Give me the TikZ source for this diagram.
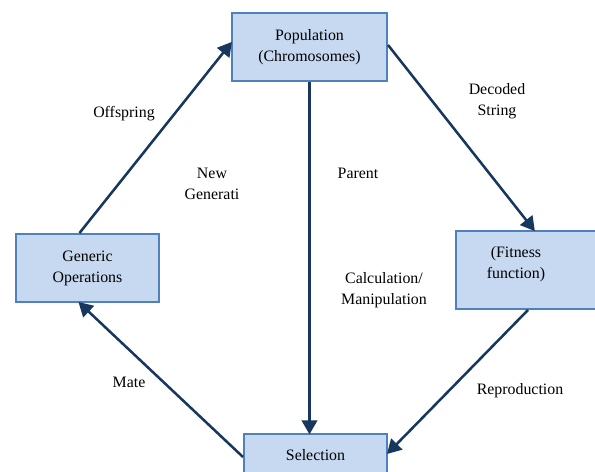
\documentclass[tikz,border=0pt]{standalone}
\usepackage{fontspec}
\setmainfont{Liberation Serif}
\usetikzlibrary{arrows.meta}
\definecolor{boxfill}{HTML}{C6D9F1}
\definecolor{boxline}{HTML}{4F81BD}
\definecolor{arrowcol}{HTML}{17375E}
\tikzset{
  stage/.style={draw=boxline, fill=boxfill, line width=1.4pt, align=center, inner sep=0pt},
  flow/.style={draw=arrowcol, line width=1.8pt, -{Triangle[length=10pt, width=11pt]}, shorten >=-1pt},
  tag/.style={align=center, inner sep=0pt}
}
\begin{document}
\begin{tikzpicture}[x=0.025cm, y=-0.025cm, font=\fontsize{11.3}{14.9}\selectfont]
            \useasboundingbox (0,0) rectangle (595,472);
            \node[stage, minimum width=3.875cm, minimum height=1.7cm] (pop) at (309.5,47) {Population\\(Chromosomes)};
            \node[stage, minimum width=3.575cm, minimum height=1.7cm] (gen) at (87.5,268) {Generic\\Operations};
            \node[stage, minimum width=3.6cm, minimum height=1.95cm,
                  label={[tag, xshift=-3mm, yshift=1.5mm]center:{(Fitness\\function)}}] (fit) at (528,270) {};
            \node[stage, minimum width=3.575cm, minimum height=1.15cm,
                  label={[tag, yshift=0.5mm]center:Selection}] (sel) at (315.5,457) {};
            \draw[flow] (pop.south) -- (pop.south |- sel.north);
            \draw[flow] ([yshift=0.5mm]pop.east) -- ([xshift=1.5mm]fit.north);
            \draw[flow] (fit.south) -- ([yshift=1mm]sel.east);
            \draw[flow] (sel.west) -- ([xshift=-2mm]gen.south);
            \draw[flow] ([xshift=-2mm]gen.north) -- ([yshift=1mm]pop.west);
            \node[tag] (offspring) at (124,114) {Offspring};
            \node[tag] (newgen) at (212,184) {New\\Generati};
            \node[tag] (parent) at (358,173) {Parent};
            \node[tag] (calc) at (384,290) {Calculation/\\Manipulation};
            \node[tag] (decoded) at (497,101) {Decoded\\String};
            \node[tag] (mate) at (129,382) {Mate};
            \node[tag] (repro) at (520,391) {Reproduction};
        \end{tikzpicture}
\end{document}
